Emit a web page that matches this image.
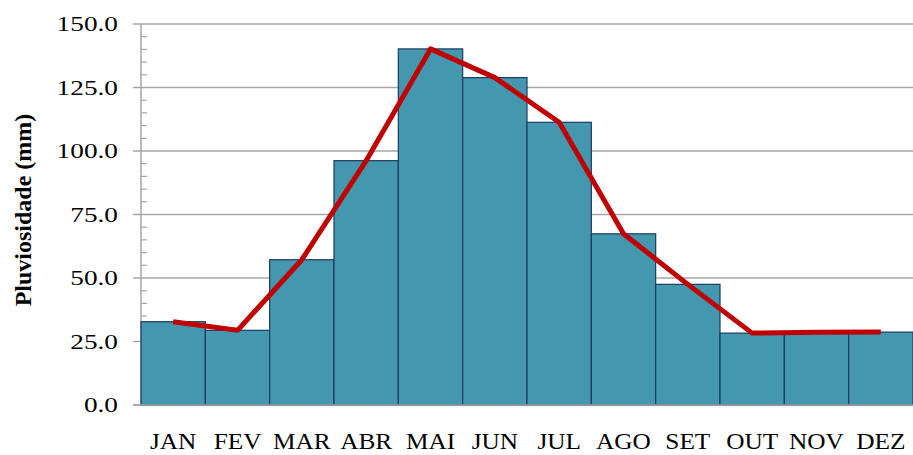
<!DOCTYPE html>
<html>
<head>
<meta charset="utf-8">
<script src="https://cdn.jsdelivr.net/npm/d3@7"></script>
<style>
  body { margin: 0; background: #fff; }
  text { font-family: "Liberation Serif", "Times New Roman", serif; fill: #000; }
</style>
</head>
<body>
<div id="chart"></div>
<script>
const months = ["JAN", "FEV", "MAR", "ABR", "MAI", "JUN", "JUL", "AGO", "SET", "OUT", "NOV", "DEZ"];
const rainfall = [32.8, 29.4, 57.2, 96.2, 140.2, 128.9, 111.3, 67.4, 47.5, 28.3, 28.4, 28.7];
const lineValues = [32.8, 29.4, 57.2, 96.2, 140.2, 128.9, 111.3, 67.4, 47.5, 28.3, 28.6, 28.7];
const yTicks = [0, 25, 50, 75, 100, 125, 150];
const yTitle = "Pluviosidade (mm)";

const width = 913;
const height = 455;
const margin = { top: 24, right: 0, bottom: 50, left: 141 };

const svg = d3
  .select("#chart")
  .append("svg")
  .attr("width", width)
  .attr("height", height);

const x = d3
  .scaleBand()
  .domain(months)
  .range([margin.left, width - margin.right])
  .padding(0);

const y = d3
  .scaleLinear()
  .domain([0, 150])
  .range([height - margin.bottom, margin.top]);

// gridlines
svg
  .append("g")
  .selectAll("line")
  .data(yTicks)
  .join("line")
  .attr("x1", margin.left - 8)
  .attr("x2", width)
  .attr("y1", (d) => y(d))
  .attr("y2", (d) => y(d))
  .attr("stroke", "#a6a6a6")
  .attr("stroke-width", 1.5);

// minor ticks (inside)
const minor = d3.range(0, 150, 5).filter((d) => d % 25 !== 0);
svg
  .append("g")
  .selectAll("line")
  .data(minor)
  .join("line")
  .attr("x1", margin.left)
  .attr("x2", margin.left + 6)
  .attr("y1", (d) => y(d))
  .attr("y2", (d) => y(d))
  .attr("stroke", "#a6a6a6")
  .attr("stroke-width", 1.2);

// y axis line
svg
  .append("line")
  .attr("x1", margin.left)
  .attr("x2", margin.left)
  .attr("y1", y(150))
  .attr("y2", y(0))
  .attr("stroke", "#a6a6a6")
  .attr("stroke-width", 1.5);

// bars
svg
  .append("g")
  .selectAll("rect")
  .data(rainfall)
  .join("rect")
  .attr("x", (d, i) => x(months[i]))
  .attr("y", (d) => y(d))
  .attr("width", x.bandwidth())
  .attr("height", (d) => y(0) - y(d))
  .attr("fill", "#4397ae")
  .attr("stroke", "#1f3a5f")
  .attr("stroke-width", 1.2);

// baseline over bars
svg
  .append("line")
  .attr("x1", margin.left - 8)
  .attr("x2", width)
  .attr("y1", y(0))
  .attr("y2", y(0))
  .attr("stroke", "#a6a6a6")
  .attr("stroke-width", 1.5);

// line series
const line = d3
  .line()
  .x((d, i) => x(months[i]) + x.bandwidth() / 2)
  .y((d) => y(d));

svg
  .append("path")
  .datum(lineValues)
  .attr("d", line)
  .attr("fill", "none")
  .attr("stroke", "#c00000")
  .attr("stroke-width", 5)
  .attr("stroke-linejoin", "round");

// y tick labels
svg
  .append("g")
  .selectAll("text")
  .data(yTicks)
  .join("text")
  .attr("text-anchor", "end")
  .attr("transform", (d) => `translate(118, ${y(d) + 7}) scale(1.3, 1)`)
  .style("font-size", "21px")
  .text((d) => d.toFixed(1));

// x labels
svg
  .append("g")
  .selectAll("text")
  .data(months)
  .join("text")
  .attr("text-anchor", "middle")
  .attr("transform", (d) => `translate(${x(d) + x.bandwidth() / 2}, 449) scale(1.1, 1)`)
  .style("font-size", "23px")
  .text((d) => d);

// y title
svg
  .append("text")
  .attr("text-anchor", "middle")
  .attr("transform", "translate(31, 210) rotate(-90)")
  .style("font-size", "24px")
  .style("font-weight", "bold")
  .text(yTitle);
</script>
</body>
</html>
